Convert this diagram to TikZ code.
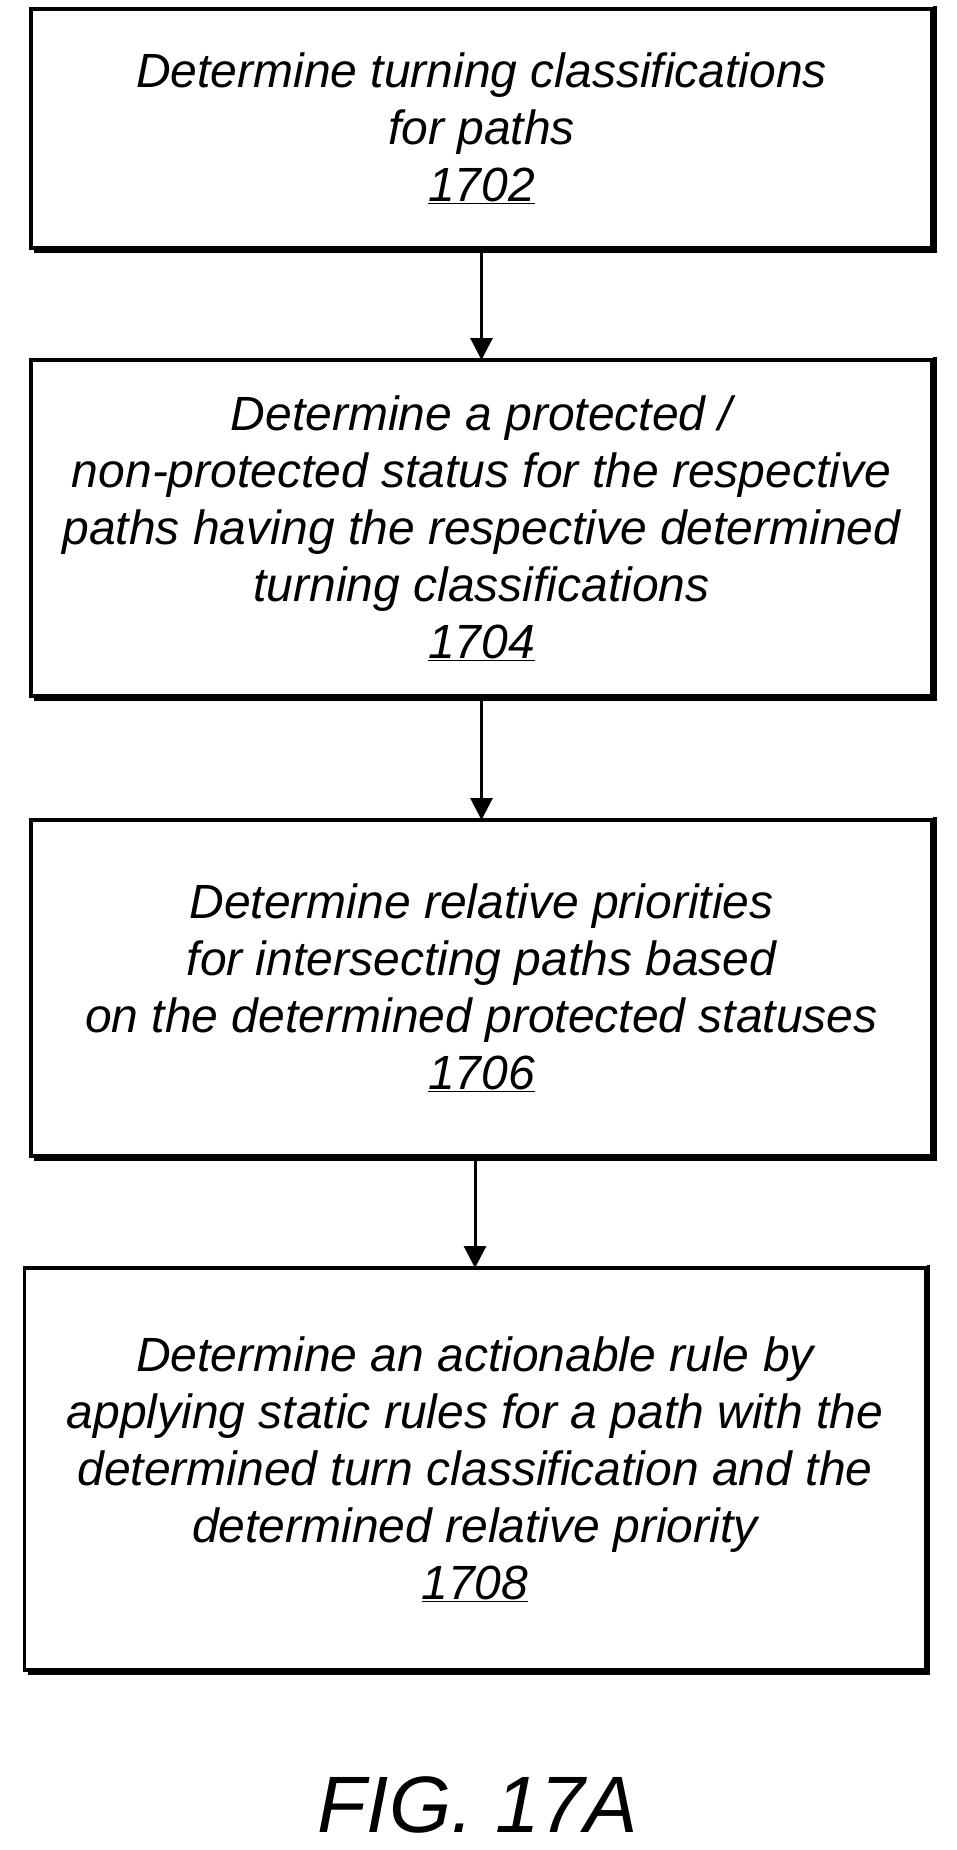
\documentclass[tikz,border=0pt]{standalone}
\usepackage{fontspec}
\setmainfont{Liberation Sans}
\usetikzlibrary{positioning,arrows.meta}
\tikzset{
  stepbox/.style={draw, line width=3.5pt, minimum width=901pt, align=center,
    font=\fontsize{48}{57}\selectfont\itshape, inner sep=0pt, outer sep=0pt},
  flow/.style={line width=3pt, -{Triangle[length=22pt,width=22pt]}}
}
\begin{document}
\begin{tikzpicture}[x=1pt,y=-1pt]
  \useasboundingbox (0,0) rectangle (956,1850);
  \node[stepbox, minimum height=239pt] (s1) at (481.5,128.5)
    {Determine turning classifications\\for paths\\\underline{1702}};
  \node[stepbox, minimum height=336pt] (s2) at (481.5,528)
    {Determine a protected /\\non-protected status for the respective\\paths having the respective determined\\turning classifications\\\underline{1704}};
  \node[stepbox, minimum height=336pt] (s3) at (481.5,988)
    {Determine relative priorities\\for intersecting paths based\\on the determined protected statuses\\\underline{1706}};
  \node[stepbox, minimum height=402pt] (s4) at (475,1469)
    {Determine an actionable rule by\\applying static rules for a path with the\\determined turn classification and the\\determined relative priority\\\underline{1708}};
  % shadow edges
  \foreach \n in {s1,s2,s3,s4}
    \draw[line width=3.5pt] ([shift={(3pt,3pt)}]\n.north east) -- ([shift={(3pt,-3pt)}]\n.south east) -- ([shift={(3pt,-3pt)}]\n.south west);
  \draw[flow] (s1) -- (s2);
  \draw[flow] (s2) -- (s3);
  \draw[flow] (s3.south -| s4) -- (s4);
  \node[font=\fontsize{80}{90}\selectfont\itshape] (fig) at (478,1805) {FIG. 17A};
\end{tikzpicture}
\end{document}
